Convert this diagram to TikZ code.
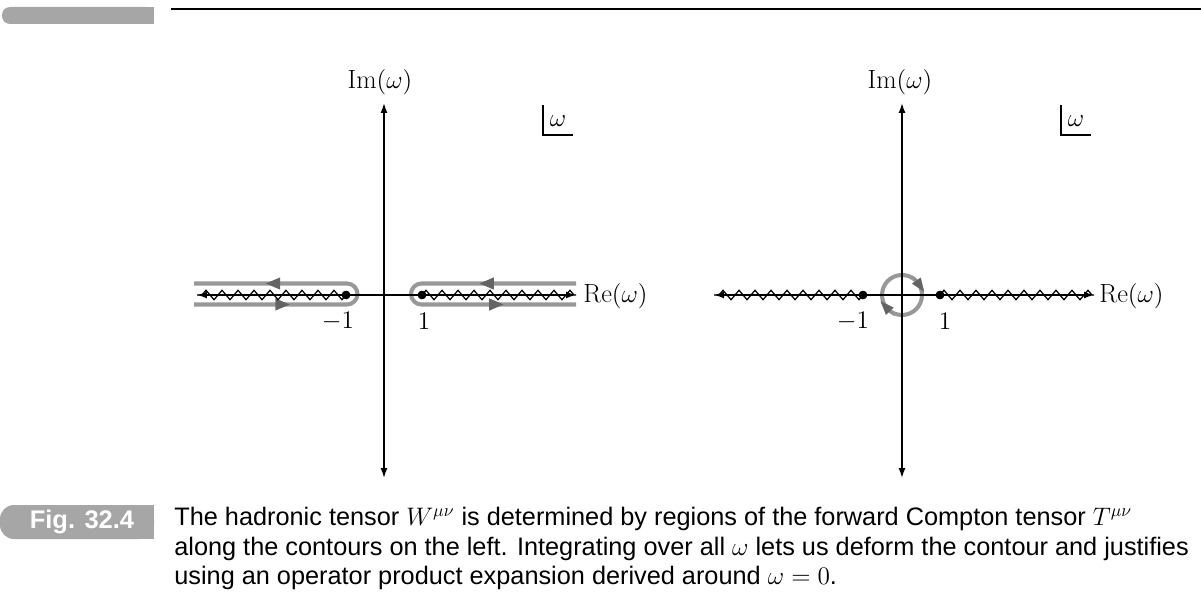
\documentclass[tikz,border=0pt]{standalone}
\usepackage{fontspec}
\setsansfont{Liberation Sans}
\usetikzlibrary{positioning,arrows.meta,decorations.pathmorphing,decorations.markings}
\definecolor{tabgray}{RGB}{166,166,166}
\definecolor{loopgray}{RGB}{152,152,152}
\definecolor{tipgray}{RGB}{100,100,100}
\tikzset{
  axis/.style={line width=0.8pt,
    {Latex[length=0.2cm,width=0.14cm]}-{Latex[length=0.2cm,width=0.14cm]}},
  branch/.style={decorate, line width=0.7pt,
    decoration={zigzag, segment length=0.32cm, amplitude=0.095cm}},
  pole/.style={circle, fill=black, inner sep=0pt, minimum size=0.17cm},
  lbl/.style={font=\fontsize{15}{18}\selectfont, inner sep=0pt},
  contour/.style={draw=loopgray, line width=2.3pt, rounded corners=0.21cm,
    postaction={decorate}, decoration={markings,
      mark=at position 0.284 with {\arrow[tipgray]{Triangle[length=0.3cm,width=0.22cm]}},
      mark=at position 0.79 with {\arrow[tipgray]{Triangle[length=0.3cm,width=0.22cm]}}}},
  ring/.style={draw=loopgray, line width=2.3pt},
  ringtip/.style={tipgray, line width=0.1pt, -{Triangle[length=0.27cm,width=0.21cm]}}
}

\begin{document}
\begin{tikzpicture}[x=0.02cm, y=-0.02cm]
    \useasboundingbox (0,0) rectangle (1201,615);

    % page head
    \fill[tabgray, rounded corners=0.16cm] (2,7) rectangle (154,24);
    \fill[tabgray] (60,7) rectangle (154,24);
    \draw[line width=1.1pt] (171,9) -- (1201,9);

    % left plane
    \coordinate (o1) at (384,295);
    \coordinate (n1) at (384,103);
    \coordinate (s1) at (384,478);
    \coordinate (w1) at (197,295);
    \coordinate (e1) at (576,295);
    \node[pole] (m1) at (346,295) {};
    \node[pole] (p1) at (422,295) {};

    \draw[contour] (194,304.5) -- (357.5,304.5) -- (357.5,283.5) -- (194,283.5);
    \draw[contour] (576,283.5) -- (411,283.5) -- (411,304.5) -- (576,304.5);

    \draw[axis] (s1) -- (n1);
    \draw[axis] (w1) -- (e1);
    \draw[branch] (m1.center) -- (w1);
    \draw[branch] (p1.center) -- (e1);
    \node[pole] at (m1) {};
    \node[pole] at (p1) {};

    \node[lbl] (im1) at (380,82) {$\mathrm{Im}(\omega)$};
    \node[lbl, anchor=west] (re1) at (583,296) {$\mathrm{Re}(\omega)$};
    \node[lbl] (lm1) at (338,321) {$-1$};
    \node[lbl] (lp1) at (424,321) {$1$};
    \coordinate (b1) at (543,135);
    \draw[line width=0.6pt] (b1) ++(0,-30) -- (b1) -- ++(30,0);
    \node[lbl] (om1) at (558,121) {$\omega$};

    % right plane
    \coordinate (o2) at (902,295);
    \coordinate (n2) at (902,103);
    \coordinate (s2) at (902,478);
    \coordinate (w2) at (714,295);
    \coordinate (e2) at (1094,295);
    \node[pole] (m2) at (863,295) {};
    \node[pole] (p2) at (940,295) {};

    \draw[ring] (o2) circle[radius=20];
    \coordinate (t1) at (918.4,283.5);
    \coordinate (t2) at (887.4,308.6);
    \draw[ringtip] (t1) ++(-5.7,-8.2) -- ++(11.4,16.4);
    \draw[ringtip] (t2) ++(6.8,7.3) -- ++(-13.6,-14.6);

    \draw[axis] (s2) -- (n2);
    \draw[axis] (w2) -- (e2);
    \draw[branch] (m2.center) -- (w2);
    \draw[branch] (p2.center) -- (e2);
    \node[pole] at (m2) {};
    \node[pole] at (p2) {};

    \node[lbl] (im2) at (900,82) {$\mathrm{Im}(\omega)$};
    \node[lbl, anchor=west] (re2) at (1099,296) {$\mathrm{Re}(\omega)$};
    \node[lbl] (lm2) at (853,321) {$-1$};
    \node[lbl] (lp2) at (945,321) {$1$};
    \coordinate (b2) at (1061,135);
    \draw[line width=0.6pt] (b2) ++(0,-30) -- (b2) -- ++(30,0);
    \node[lbl] (om2) at (1076,121) {$\omega$};

    % caption
    \fill[tabgray, rounded corners=0.28cm] (0,505) rectangle (154,539);
    \fill[tabgray] (60,505) rectangle (154,539);
    \node[text=white, font=\sffamily\bfseries\fontsize{14.5}{17}\selectfont] (fig) at (82,521.5) {Fig. 32.4};
    \node[anchor=north west, align=left, inner sep=0pt,
      font=\sffamily\fontsize{14.4}{16.8}\selectfont] (cap) at (174,507)
      {The hadronic tensor $W^{\mu\nu}$ is determined by regions of the forward Compton tensor $T^{\mu\nu}$\\
       along the contours on the left. Integrating over all $\omega$ lets us deform the contour and justifies\\
       using an operator product expansion derived around $\omega=0$.};
\end{tikzpicture}
\end{document}
